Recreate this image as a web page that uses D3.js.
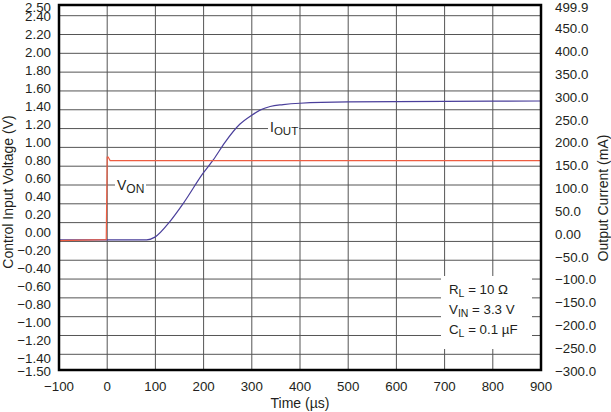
<!DOCTYPE html>
<meta charset="utf-8">
<style>
html, body {
  margin: 0;
  padding: 0;
  background: #fff;
}
svg text {
  font-family: "Liberation Sans", Arial, sans-serif;
  fill: #231f20;
}
.tick text { font-size: 13.3px; }
.title { font-size: 14px; }
.grid line { stroke: #555; stroke-width: 1; }
</style>
<svg id="chart" width="611" height="412"></svg>
<script src="https://cdn.jsdelivr.net/npm/d3@7"></script>
<script>

// time axis (µs)
var timeTicks = [-100, 0, 100, 200, 300, 400, 500, 600, 700, 800, 900];

// left axis, control input voltage (V)
var voltTicks = [2.5, 2.4, 2.2, 2.0, 1.8, 1.6, 1.4, 1.2, 1.0, 0.8, 0.6, 0.4, 0.2, 0,
                 -0.2, -0.4, -0.6, -0.8, -1.0, -1.2, -1.4, -1.5];

// right axis, output current (mA)
var currTicks = [499.9, 450, 400, 350, 300, 250, 200, 150, 100, 50, 0,
                 -50, -100, -150, -200, -250, -300];
var currLabels = ["499.9", "450.0", "400.0", "350.0", "300.0", "250.0", "200.0", "150.0",
                  "100.0", "50.0", "0.00", "\u221250.0", "\u2212100.0", "\u2212150.0",
                  "\u2212200.0", "\u2212250.0", "\u2212300.0"];

// V_ON trace
var vonTime = [-100, -2, 0, 2, 6, 900];
var vonVolt = [-0.09, -0.08, 0.84, 0.84, 0.80, 0.80];

// I_OUT trace
var ioutTime = [-100, 0, 82, 99, 130, 158, 199, 220, 244, 275, 300, 317, 338, 365, 400, 500, 700, 900];
var ioutMA   = [-13, -13, -13, -7, 27, 67, 133, 162, 200, 240, 260, 271, 279, 283, 286, 289, 290, 291];

var svg = d3.select("#chart");

// (window.top is reserved, so plotTop)
var plotLeft = 59, plotRight = 541, plotTop = 5, plotBottom = 370;

var x = d3.scaleLinear().domain([-100, 900]).range([plotLeft, plotRight]);
// the printed scales sit slightly inside the frame
var yV = d3.scaleLinear().domain([-1.5, 2.5]).range([367.4, 7.7]);
var yI = d3.scaleLinear().domain([-300, 500]).range([371, 5.5]);
// the source drawing has 19 evenly spaced horizontal grid rules
var gridRow = d3.scaleLinear().domain([0, 18]).range([15.7, 354.3]);

// end labels are pinned to the frame
function voltLabelY(d) {
  if (d === 2.5) return plotTop + 2;
  if (d === -1.5) return plotBottom + 1.5;
  return yV(d);
}
function currLabelY(d) {
  return d === 499.9 ? plotTop + 2.5 : yI(d);
}

// grid
var grid = svg.append("g").attr("class", "grid");
grid.selectAll(".v")
    .data(timeTicks.slice(1, -1))
  .enter().append("line")
    .attr("x1", function(d) { return x(d); })
    .attr("x2", function(d) { return x(d); })
    .attr("y1", plotTop)
    .attr("y2", plotBottom);
grid.selectAll(".h")
    .data(d3.range(19))
  .enter().append("line")
    .attr("x1", plotLeft)
    .attr("x2", plotRight)
    .attr("y1", function(d) { return gridRow(d); })
    .attr("y2", function(d) { return gridRow(d); });

// white patches behind the labels
var patches = [[115, 176, 31, 21], [268, 119, 31, 21], [441, 276, 91, 73]];
svg.selectAll(".patch")
    .data(patches)
  .enter().append("rect")
    .attr("x", function(d) { return d[0]; })
    .attr("y", function(d) { return d[1]; })
    .attr("width", function(d) { return d[2]; })
    .attr("height", function(d) { return d[3]; })
    .attr("fill", "#fff");

// traces
var ioutLine = d3.line()
    .x(function(d, i) { return x(ioutTime[i]); })
    .y(function(d) { return yI(d); })
    .curve(d3.curveMonotoneX);
svg.append("path")
    .attr("d", ioutLine(ioutMA))
    .attr("fill", "none")
    .attr("stroke", "#4a3f9b")
    .attr("stroke-width", 1.2);

var vonLine = d3.line()
    .x(function(d, i) { return x(vonTime[i]); })
    .y(function(d) { return yV(d); });
svg.append("path")
    .attr("d", vonLine(vonVolt))
    .attr("fill", "none")
    .attr("stroke", "#ee5d42")
    .attr("stroke-width", 1.2);

// frame
svg.append("rect")
    .attr("x", plotLeft)
    .attr("y", plotTop)
    .attr("width", plotRight - plotLeft)
    .attr("height", plotBottom - plotTop)
    .attr("fill", "none")
    .attr("stroke", "#000")
    .attr("stroke-width", 2.5);

// tick labels
var fmtV = d3.format(".2f");
var ticks = svg.append("g").attr("class", "tick");
ticks.selectAll(".lv")
    .data(voltTicks)
  .enter().append("text")
    .attr("x", 51)
    .attr("y", voltLabelY)
    .attr("dy", "0.36em")
    .attr("text-anchor", "end")
    .text(function(d) { return fmtV(d); });
ticks.selectAll(".ri")
    .data(currTicks)
  .enter().append("text")
    .attr("x", 555)
    .attr("y", currLabelY)
    .attr("dy", "0.36em")
    .text(function(d, i) { return currLabels[i]; });
ticks.selectAll(".bt")
    .data(timeTicks)
  .enter().append("text")
    .attr("x", function(d) { return x(d); })
    .attr("y", 390.5)
    .attr("text-anchor", "middle")
    .text(function(d) { return d < 0 ? "\u2212" + (-d) : d; });

// axis titles
svg.append("text")
    .attr("class", "title")
    .attr("text-anchor", "middle")
    .attr("x", (plotLeft + plotRight) / 2)
    .attr("y", 408)
    .text("Time (µs)");
svg.append("text")
    .attr("class", "title")
    .attr("text-anchor", "middle")
    .attr("transform", "translate(13,192) rotate(-90)")
    .text("Control Input Voltage (V)");
svg.append("text")
    .attr("class", "title")
    .attr("text-anchor", "middle")
    .attr("transform", "translate(607.5,198) rotate(-90)")
    .text("Output Current (mA)");

// trace labels and test conditions
function subLabel(xp, yp, main, sub, rest, size, subSize) {
  var t = svg.append("text")
      .attr("x", xp)
      .attr("y", yp)
      .style("font-size", size + "px");
  t.append("tspan").text(main);
  t.append("tspan").attr("dy", 3).style("font-size", subSize + "px").text(sub);
  if (rest) t.append("tspan").attr("dy", -3).text(rest);
}
subLabel(117, 190, "V", "ON", null, 14, 12);
subLabel(270, 132, "I", "OUT", null, 14, 11.5);
subLabel(449, 294, "R", "L", " = 10 \u03a9", 13.3, 10.5);
subLabel(449, 314, "V", "IN", " = 3.3 V", 13.3, 10.5);
subLabel(449, 334, "C", "L", " = 0.1 µF", 13.3, 10.5);

</script>
